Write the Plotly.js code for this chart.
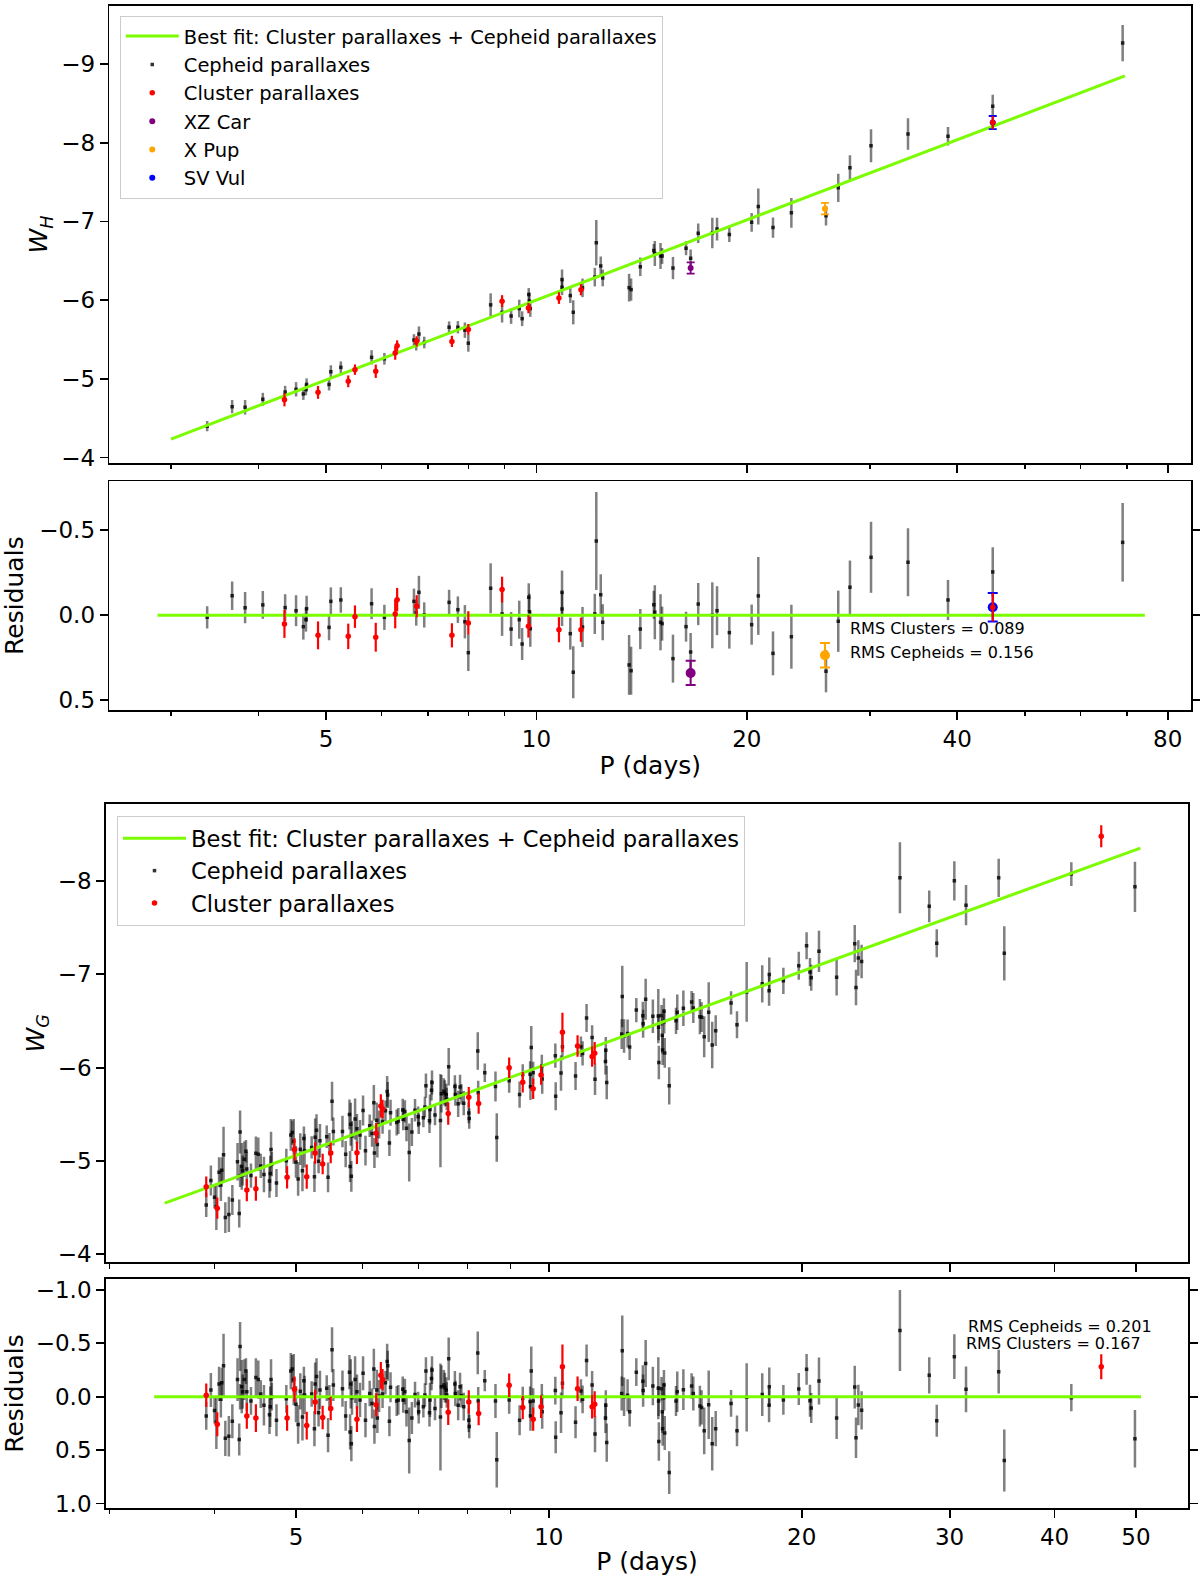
<!DOCTYPE html>
<html>
<head>
<meta charset="utf-8">
<script src="https://cdn.plot.ly/plotly-3.0.1.min.js"></script>
<style>
  body { margin: 0; background: #fff; }
  #chart { width: 1200px; height: 1576px; }
</style>
</head>
<body>
<div id="chart"></div>
<script>
// ---------- top figure: W_H ----------
// period (days), residual from the best fit (mag), error (mag)
var hCephP = [3.38, 3.67, 3.83, 4.06, 4.37, 4.53, 4.64, 4.68, 4.69, 5.05, 5.08, 5.25, 5.81, 6.06, 6.68, 6.73, 6.79, 6.91,
  7.50, 7.72, 7.90, 7.99, 8.60, 8.93, 9.20, 9.45, 9.54, 9.75, 9.77, 9.80, 10.88, 10.88, 11.18, 11.29, 11.64, 12.12,
  12.18, 12.36, 12.44, 13.57, 13.66, 14.08, 14.72, 14.77, 15.05, 15.13, 15.68, 16.37, 16.62, 17.04, 17.85, 18.13,
  18.88, 20.32, 20.77, 21.80, 23.16, 25.96, 27.03, 28.09, 30.11, 34.01, 38.80, 44.96, 68.98];
var hCephRes = [0.012, -0.115, -0.045, -0.061, -0.045, -0.027, 0.067, 0.026, -0.039, 0.071, -0.082, -0.09, -0.068, 0.012,
  -0.082, -0.014, -0.135, -0.002, -0.076, -0.033, 0.038, 0.22, -0.159, -0.008, 0.081, 0.026, 0.169, -0.106, -0.021,
  0.079, -0.135, -0.037, 0.108, 0.335, 0.069, -0.008, -0.437, -0.121, 0.041, 0.292, 0.326, 0.081, -0.062, -0.018,
  0.041, 0.049, 0.255, 0.067, 0.216, -0.066, 0, -0.027, 0.102, 0.055, -0.114, 0.224, 0.126, 0.329, 0.035, -0.165,
  -0.341, -0.312, -0.09, -0.255, -0.429];
var hCephErr = [0.065, 0.084, 0.092, 0.082, 0.079, 0.091, 0.076, 0.07, 0.076, 0.076, 0.082, 0.075, 0.091, 0.074, 0.075,
  0.075, 0.097, 0.074, 0.074, 0.078, 0.098, 0.108, 0.147, 0.129, 0.1, 0.112, 0.094, 0.082, 0.106, 0.106, 0.128, 0.1,
  0.094, 0.153, 0.118, 0.118, 0.288, 0.12, 0.106, 0.176, 0.141, 0.118, 0.082, 0.159, 0.165, 0.1, 0.141, 0.088, 0.112,
  0.124, 0.194, 0.144, 0.094, 0.118, 0.229, 0.129, 0.188, 0.124, 0.18, 0.157, 0.209, 0.2, 0.118, 0.145, 0.231];

var hClusP = [4.36, 4.87, 5.38, 5.50, 5.89, 6.28, 6.32, 6.74, 7.57, 7.99, 8.93, 9.74, 10.77, 11.58, 44.96];
var hClusRes = [0.051, 0.118, 0.124, 0.008, 0.129, -0.008, -0.092, -0.053, 0.118, 0.045, -0.151, 0.065, 0.085, 0.085, -0.047];
var hClusErr = [0.082, 0.082, 0.075, 0.066, 0.085, 0.085, 0.069, 0.065, 0.071, 0.069, 0.076, 0.066, 0.074, 0.071, 0.084];

var specialNames = ['XZ Car', 'X Pup', 'SV Vul'];
var specialColors = ['#800080', '#FFA500', '#0000FF'];
var specialP = [16.62, 25.87, 44.96];
var specialRes = [0.339, 0.235, -0.047];
var specialErr = [0.071, 0.072, 0.084];

// best fit W_H = a + b log P
var hFitA = -2.622;
var hFitB = -3.380;
var hFitP = [3.0, 69.5];
var hZeroP = [2.87, 74.2];

// ---------- bottom figure: W_G ----------
var gCephP = [3.91, 3.96, 4.00, 4.02, 4.05, 4.07, 4.08, 4.10, 4.12, 4.16, 4.20, 4.26, 4.28, 4.29, 4.29, 4.31, 4.32, 4.34,
  4.36, 4.37, 4.42, 4.48, 4.51, 4.54, 4.58, 4.65, 4.67, 4.68, 4.66, 4.74, 4.87, 4.93, 4.95, 4.97, 5.00, 5.03, 5.06,
  5.09, 5.11, 5.12, 5.22, 5.26, 5.27, 5.29, 5.32, 5.34, 5.44, 5.46, 5.48, 5.52, 5.54, 5.68, 5.73, 5.79, 5.80, 5.81,
  5.82, 5.83, 5.88, 5.91, 5.96, 6.01, 6.05, 6.12, 6.16, 6.19, 6.20, 6.24, 6.25, 6.28, 6.34, 6.39, 6.42, 6.43, 6.46,
  6.48, 6.59, 6.62, 6.70, 6.71, 6.74, 6.77, 6.82, 6.87, 6.93, 6.99, 7.00, 7.09, 7.12, 7.14, 7.21, 7.22, 7.25, 7.26,
  7.32, 7.43, 7.45, 7.50, 7.52, 7.55, 7.56, 7.60, 7.73, 7.74, 7.80, 7.84, 7.87, 7.92, 8.03, 8.04, 8.23, 8.24, 8.39,
  8.64, 8.67, 8.97, 9.23, 9.31, 9.50, 9.53, 9.51, 9.58, 9.82, 9.81, 10.18, 10.19, 10.38, 10.34, 10.76, 10.92, 10.97,
  11.09, 11.26, 11.35, 11.69, 11.68, 11.72, 12.23, 12.21, 12.29, 12.41, 12.48, 12.71, 12.94, 12.95, 13.04, 13.30,
  13.50, 13.51, 13.52, 13.62, 13.65, 13.66, 13.71, 13.72, 13.74, 13.91, 14.17, 14.22, 14.46, 14.79, 14.86, 15.13,
  15.20, 15.31, 15.50, 15.65, 15.80, 16.48, 16.75, 17.20, 17.95, 18.30, 18.29, 19.02, 19.84, 20.27, 20.46, 20.53,
  20.97, 22.01, 23.13, 23.21, 23.36, 23.57, 26.18, 28.37, 28.96, 30.39, 31.38, 34.32, 34.85, 41.88, 49.86];
var gCephRes = [0.18, -0.063, 0.13, 0.24, -0.12, 0.025, -0.13, -0.29, 0.39, 0.37, 0.23, -0.16, 0.40, -0.47, 0, -0.094,
  -0.047, -0.16, -0.24, -0.047, 0.04, -0.18, -0.16, -0.025, 0.08, 0.17, -0.16, 0, 0.094, 0.22, 0.02, -0.24, -0.26,
  -0.16, 0.07, 0.26, -0.05, 0.19, -0.15, -0.016, -0.025, 0.30, -0.12, -0.19, 0.15, -0.063, -0.08, 0.36, 0.01, -0.44,
  -0.11, -0.075, 0.18, -0.23, 0.33, -0.12, 0.44, 0.01, -0.16, -0.047, 0.03, -0.22, 0.22, -0.03, 0.063, -0.26, 0.28,
  -0.063, 0.20, -0.006, -0.025, -0.13, -0.33, -0.29, 0.23, -0.088, 0.04, 0.03, -0.07, 0.03, -0.047, 0.14, 0.41, 0.2,
  -0.02, 0.063, 0.14, 0.094, -0.016, -0.24, 0.15, 0.03, -0.17, -0.25, 0.11, 0.19, -0.094, -0.11, -0.085, -0.063,
  -0.016, -0.355, -0.12, -0.03, 0.08, -0.094, -0.01, 0.094, 0.22, 0.28, -0.41, 0.04, -0.15, 0.04, 0.59, 0.03, 0.22,
  0.016, 0.044, -0.24, 0.18, 0.04, 0.14, 0, -0.057, 0.38, -0.126, 0.15, 0.24, -0.053, 0.025, -0.34, -0.11, 0.35,
  0.08, 0.2, 0.43, -0.43, -0.03, 0, -0.013, 0.14, -0.23, -0.145, -0.057, -0.31, -0.1, -0.08, 0.04, 0.42, -0.075,
  0.14, 0.30, -0.11, 0, 0.34, 0.71, 0.04, -0.047, -0.066, -0.10, -0.03, 0.088, 0.10, 0.32, 0.075, 0.44, 0.30, 0.063,
  0.32, 0.006, -0.02, -0.094, 0.08, 0.03, -0.072, -0.256, 0.038, 0.106, -0.147, 0.2, -0.09, 0.385, 0.078, 0.128,
  -0.62, -0.2, 0.225, -0.375, -0.069, -0.234, 0.597, 0.009, 0.394];
var gCephErr = [0.13, 0.16, 0.12, 0.25, 0.16, 0.17, 0.14, 0.30, 0.165, 0.19, 0.16, 0.2, 0.15, 0.23, 0.12, 0.25, 0.16,
  0.19, 0.12, 0.18, 0.13, 0.18, 0.18, 0.13, 0.19, 0.18, 0.19, 0.13, 0.19, 0.15, 0.13, 0.17, 0.13, 0.24, 0.17, 0.18,
  0.17, 0.22, 0.13, 0.18, 0.12, 0.165, 0.2, 0.17, 0.13, 0.18, 0.12, 0.16, 0.12, 0.21, 0.15, 0.17, 0.14, 0.16, 0.165,
  0.23, 0.165, 0.16, 0.22, 0.16, 0.16, 0.16, 0.16, 0.12, 0.14, 0.19, 0.16, 0.19, 0.14, 0.15, 0.13, 0.11, 0.165, 0.14,
  0.14, 0.14, 0.14, 0.14, 0.12, 0.12, 0.12, 0.14, 0.31, 0.15, 0.12, 0.11, 0.11, 0.1, 0.11, 0.13, 0.13, 0.16, 0.11,
  0.13, 0.11, 0.5, 0.2, 0.14, 0.14, 0.12, 0.12, 0.2, 0.12, 0.12, 0.14, 0.13, 0.11, 0.13, 0.11, 0.11, 0.2, 0.13, 0.1,
  0.16, 0.26, 0.13, 0.14, 0.11, 0.14, 0.23, 0.14, 0.12, 0.16, 0.12, 0.13, 0.15, 0.14, 0.19, 0.15, 0.11, 0.13, 0.15,
  0.13, 0.17, 0.14, 0.14, 0.18, 0.33, 0.16, 0.18, 0.15, 0.14, 0.13, 0.15, 0.15, 0.22, 0.18, 0.29, 0.14, 0.18, 0.11,
  0.2, 0.16, 0.14, 0.13, 0.16, 0.2, 0.14, 0.19, 0.19, 0.12, 0.16, 0.19, 0.16, 0.22, 0.32, 0.25, 0.165, 0.125, 0.145,
  0.32, 0.2, 0.18, 0.16, 0.14, 0.15, 0.145, 0.15, 0.14, 0.22, 0.195, 0.2, 0.19, 0.19, 0.18, 0.38, 0.17, 0.15, 0.21,
  0.215, 0.205, 0.29, 0.127, 0.27];

var gClusP = [3.91, 4.03, 4.37, 4.48, 4.88, 4.98, 5.15, 5.27, 5.38, 5.50, 5.91, 6.23, 6.31, 6.34, 7.59, 8.03, 8.25,
  8.97, 9.31, 9.58, 9.79, 10.38, 10.82, 11.26, 11.34, 45.46];
var gClusRes = [-0.013, 0.258, 0.18, 0.20, 0.20, -0.07, 0.27, 0.05, 0.195, 0.11, 0.21, 0.075, -0.2, -0.16, 0.145, 0.05,
  0.157, -0.107, 0.10, 0.21, 0.094, -0.28, -0.075, 0.094, 0.07, -0.28];
var gClusErr = [0.11, 0.113, 0.12, 0.13, 0.12, 0.12, 0.13, 0.115, 0.11, 0.11, 0.12, 0.11, 0.125, 0.10, 0.12, 0.11,
  0.11, 0.11, 0.11, 0.11, 0.105, 0.21, 0.115, 0.11, 0.12, 0.117];

// best fit W_G = a + b log P
var gFitA = -2.768;
var gFitB = -3.277;
var gFitP = [3.49, 50.6];
var gZeroP = [3.39, 50.7];

var topTicks = [5, 10, 20, 40, 80];
var topMinor = [3, 4, 6, 7, 8, 9, 30, 50, 60, 70];
var botTicks = [5, 10, 20, 30, 40, 50];
var botMinor = [3, 4, 6, 7, 8, 9];

var FONT = 'DejaVu Sans, sans-serif';
var GREEN = '#7CFC00';

// W values are the fit plus the residuals
function toW(periods, res, a, b) {
  var w = [];
  for (var i = 0; i < periods.length; i++) {
    w.push(a + b * Math.log10(periods[i]) + res[i]);
  }
  return w;
}

function fitLine(periods, a, b) {
  var w = [];
  for (var i = 0; i < periods.length; i++) {
    w.push(a + b * Math.log10(periods[i]));
  }
  return w;
}

function pts(xa, ya, x, y, err, st) {
  return {
    x: x, y: y, xaxis: xa, yaxis: ya,
    type: 'scatter', mode: 'markers',
    name: st.name || 'points',
    marker: { symbol: st.symbol, size: st.size, color: st.color },
    error_y: { type: 'data', array: err, visible: true, color: st.ecolor,
               thickness: st.ethick, width: st.cap || 0 },
    showlegend: !!st.legend, legend: st.legend, legendrank: st.rank,
    hoverinfo: 'x+y'
  };
}

function line(xa, ya, x, y, st) {
  return {
    x: x, y: y, xaxis: xa, yaxis: ya,
    type: 'scatter', mode: 'lines',
    name: 'Best fit: Cluster parallaxes + Cepheid parallaxes',
    line: { color: GREEN, width: 3 },
    showlegend: !!st.legend, legend: st.legend, legendrank: st.rank,
    hoverinfo: 'skip'
  };
}

var greyMain = { symbol: 'square', size: 3.5, color: 'rgba(0,0,0,0.8)', ecolor: 'rgba(0,0,0,0.5)', ethick: 2.5 };
var redMain = { symbol: 'circle', size: 5.5, color: '#FF0000', ecolor: '#FF0000', ethick: 2.2 };

var data = [];

// --- panel 1: W_H ---
data.push(pts('x', 'y', hCephP, toW(hCephP, hCephRes, hFitA, hFitB), hCephErr,
  Object.assign({}, greyMain, { name: 'Cepheid parallaxes', legend: 'legend', rank: 2 })));
data.push(line('x', 'y', hFitP, fitLine(hFitP, hFitA, hFitB), { legend: 'legend', rank: 1 }));
for (var s = 0; s < specialNames.length; s++) {
  data.push(pts('x', 'y', [specialP[s]], toW([specialP[s]], [specialRes[s]], hFitA, hFitB), [specialErr[s]],
    { name: specialNames[s], symbol: 'circle', size: 6, color: specialColors[s], ecolor: specialColors[s],
      ethick: 1.8, cap: 4, legend: 'legend', rank: 4 + s }));
}
data.push(pts('x', 'y', hClusP, toW(hClusP, hClusRes, hFitA, hFitB), hClusErr,
  Object.assign({}, redMain, { name: 'Cluster parallaxes', legend: 'legend', rank: 3 })));

// --- panel 2: W_H residuals ---
data.push(pts('x2', 'y2', hCephP, hCephRes, hCephErr, greyMain));
data.push(line('x2', 'y2', hZeroP, [0, 0], {}));
for (var s2 = 0; s2 < specialNames.length; s2++) {
  data.push(pts('x2', 'y2', [specialP[s2]], [specialRes[s2]], [specialErr[s2]],
    { symbol: 'circle', size: 10, color: specialColors[s2], ecolor: specialColors[s2], ethick: 2, cap: 5 }));
}
data.push(pts('x2', 'y2', hClusP, hClusRes, hClusErr, redMain));

// --- panel 3: W_G ---
data.push(pts('x3', 'y3', gCephP, toW(gCephP, gCephRes, gFitA, gFitB), gCephErr,
  Object.assign({}, greyMain, { name: 'Cepheid parallaxes', legend: 'legend2', rank: 2 })));
data.push(line('x3', 'y3', gFitP, fitLine(gFitP, gFitA, gFitB), { legend: 'legend2', rank: 1 }));
data.push(pts('x3', 'y3', gClusP, toW(gClusP, gClusRes, gFitA, gFitB), gClusErr,
  Object.assign({}, redMain, { name: 'Cluster parallaxes', legend: 'legend2', rank: 3 })));

// --- panel 4: W_G residuals ---
data.push(pts('x4', 'y4', gCephP, gCephRes, gCephErr, greyMain));
data.push(line('x4', 'y4', gZeroP, [0, 0], {}));
data.push(pts('x4', 'y4', gClusP, gClusRes, gClusErr, redMain));

function xAxis(domain, range, ticks, minor, labels, anchor, title) {
  var ax = {
    type: 'log', domain: domain, range: range, anchor: anchor,
    tickmode: 'array', tickvals: ticks, ticktext: ticks.map(String),
    showticklabels: labels, ticks: 'outside', ticklen: 8, tickwidth: 1.8, tickcolor: '#000',
    minor: { tickmode: 'array', tickvals: minor, ticks: 'outside', ticklen: 4.5, tickwidth: 1.4, tickcolor: '#000', showgrid: false },
    showline: true, linecolor: '#000', linewidth: 1.8, mirror: true,
    showgrid: false, zeroline: false,
    tickfont: { family: FONT, size: 23, color: '#000' }
  };
  if (title) {
    ax.title = { text: title, font: { family: FONT, size: 25, color: '#000' }, standoff: 5 };
  }
  return ax;
}

function yAxis(domain, range, ticks, labels, anchor, title, mirror, standoff) {
  return {
    domain: domain, range: range, anchor: anchor,
    tickmode: 'array', tickvals: ticks, ticktext: labels,
    ticks: 'outside', ticklen: 8, tickwidth: 1.8, tickcolor: '#000',
    showline: true, linecolor: '#000', linewidth: 1.8, mirror: mirror,
    showgrid: false, zeroline: false,
    tickfont: { family: FONT, size: 23, color: '#000' },
    title: { text: title, font: { family: FONT, size: 25, color: '#000' }, standoff: standoff }
  };
}

var topRange = [0.3891, 1.9365];
var botRange = [0.4728, 1.7609];
var topDom = [0.0912, 0.9925];
var botDom = [0.0883, 0.99];

var layout = {
  width: 1200, height: 1576,
  margin: { l: 0, r: 0, t: 0, b: 0 },
  paper_bgcolor: '#fff', plot_bgcolor: '#fff',
  font: { family: FONT, color: '#000' },
  showlegend: true,
  xaxis: xAxis(topDom, topRange, topTicks, topMinor, false, 'y'),
  xaxis2: xAxis(topDom, topRange, topTicks, topMinor, true, 'y2', 'P (days)'),
  xaxis3: xAxis(botDom, botRange, botTicks, botMinor, false, 'y3'),
  xaxis4: xAxis(botDom, botRange, botTicks, botMinor, true, 'y4', 'P (days)'),
  yaxis: yAxis([0.7062, 0.9962], [-3.930, -9.737], [-9, -8, -7, -6, -5, -4],
    ['\u22129', '\u22128', '\u22127', '\u22126', '\u22125', '\u22124'], 'x', '<i>W</i><sub><i>H</i></sub>', true, 6),
  yaxis2: yAxis([0.5495, 0.6946], [0.557, -0.788], [-0.5, 0, 0.5],
    ['\u22120.5', '0.0', '0.5'], 'x2', 'Residuals', 'ticks', 12),
  yaxis3: yAxis([0.1991, 0.4897], [-3.914, -8.823], [-8, -7, -6, -5, -4],
    ['\u22128', '\u22127', '\u22126', '\u22125', '\u22124'], 'x3', '<i>W</i><sub><i>G</i></sub>', true, 6),
  yaxis4: yAxis([0.0433, 0.1883], [1.040, -1.100], [-1, -0.5, 0, 0.5, 1],
    ['\u22121.0', '\u22120.5', '0.0', '0.5', '1.0'], 'x4', 'Residuals', 'ticks', 12),
  legend: {
    x: 0.0998, y: 0.9899, xanchor: 'left', yanchor: 'top',
    bgcolor: 'rgba(255,255,255,0.8)', bordercolor: '#cccccc', borderwidth: 1,
    font: { family: FONT, size: 19.5, color: '#000' },
    tracegroupgap: 2.5, itemwidth: 53
  },
  legend2: {
    x: 0.0975, y: 0.4822, xanchor: 'left', yanchor: 'top',
    bgcolor: 'rgba(255,255,255,0.8)', bordercolor: '#cccccc', borderwidth: 1,
    font: { family: FONT, size: 22.6, color: '#000' },
    tracegroupgap: 3, itemwidth: 63
  },
  annotations: [
    { text: 'RMS Clusters = 0.089', xref: 'paper', yref: 'paper', x: 0.7069, y: 0.6015,
      xanchor: 'left', yanchor: 'middle', showarrow: false, font: { family: FONT, size: 16, color: '#000' } },
    { text: 'RMS Cepheids = 0.156', xref: 'paper', yref: 'paper', x: 0.7069, y: 0.5861,
      xanchor: 'left', yanchor: 'middle', showarrow: false, font: { family: FONT, size: 16, color: '#000' } },
    { text: 'RMS Cepheids = 0.201', xref: 'paper', yref: 'paper', x: 0.8048, y: 0.1582,
      xanchor: 'left', yanchor: 'middle', showarrow: false, font: { family: FONT, size: 16, color: '#000' } },
    { text: 'RMS Clusters = 0.167', xref: 'paper', yref: 'paper', x: 0.8033, y: 0.1476,
      xanchor: 'left', yanchor: 'middle', showarrow: false, font: { family: FONT, size: 16, color: '#000' } }
  ]
};

Plotly.newPlot('chart', data, layout, { staticPlot: true });
</script>
</body>
</html>
